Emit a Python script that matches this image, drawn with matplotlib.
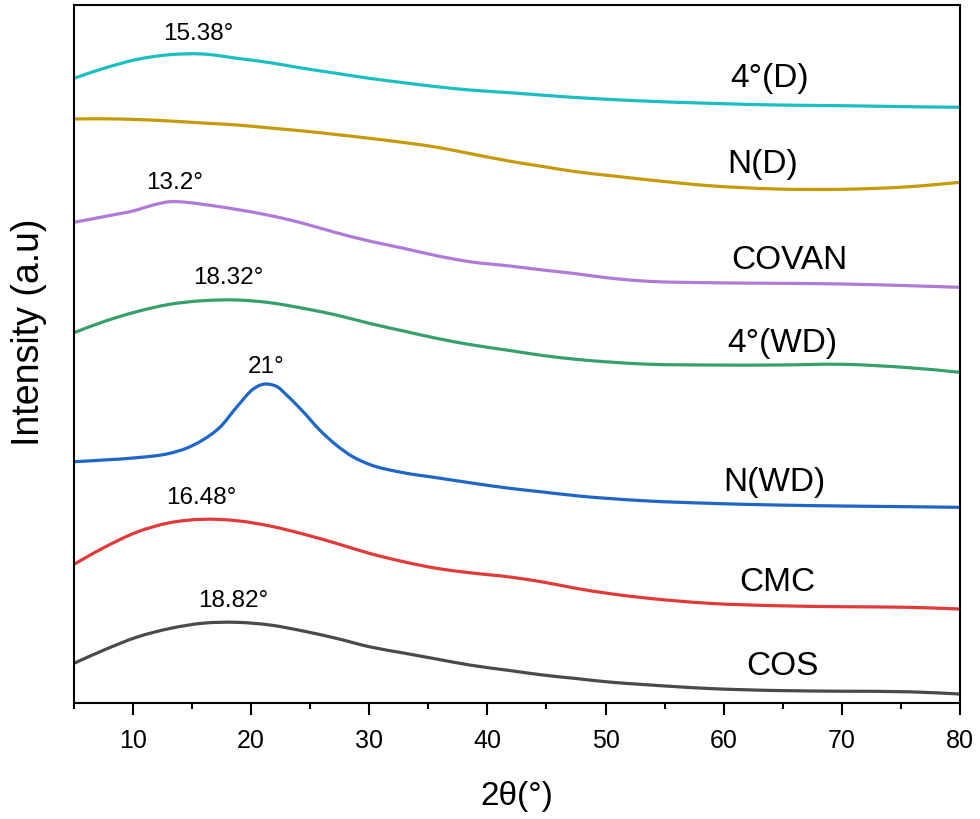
import matplotlib
matplotlib.use("Agg")
import matplotlib.pyplot as plt
from matplotlib.path import Path
from matplotlib.patches import PathPatch

plt.rcParams['font.family'] = ['Liberation Sans', 'DejaVu Sans']

# 2theta sample positions (degrees)
x_common = [5, 7.5, 10.3, 13.1, 15.9, 18.8, 21.6, 24.4, 27.2, 30, 32.9, 35.7, 38.5,
            41.9, 44.7, 47.5, 50.3, 53.2, 58.8, 64.5, 70.1, 75.7, 80]
x_covan = [5, 7.5, 10.3, 11.7, 13.1, 14.5, 15.9, 18.8, 21.6, 24.4, 27.2, 30, 32.9, 35.7,
           38.5, 41.9, 44.7, 47.5, 50.3, 53.2, 58.8, 64.5, 70.1, 75.7, 80]
x_nwd = [5, 7.5, 10.3, 13.1, 14.5, 15.9, 17.4, 18.8, 20.2, 20.7, 21.2, 21.7, 22.2, 23.0,
         24.4, 25.8, 27.2, 28.6, 30, 32.9, 35.7, 38.5, 41.9, 44.7, 47.5, 53.2, 58.8,
         64.5, 70.1, 75.7, 80]

# Intensities (a.u., stacked)
y_4d = [624.7, 634.5, 643.5, 648.3, 649, 644.7, 640.3, 634.7, 629.7, 624.7, 620.3, 616.3,
        613, 610.3, 607.8, 605.5, 603.6, 602, 599.7, 598, 597.3, 596.3, 595.7]
y_nd = [584, 584.2, 583.5, 582, 580, 578, 575, 572, 568.5, 564.7, 560.5, 555.8, 549.5,
        541.8, 536.5, 531.3, 527.5, 523.7, 517.3, 514, 513.7, 516.3, 520.7]
y_covan = [480.7, 486.3, 493, 498, 501.3, 500.7, 498.7, 493.5, 487.5, 479.7, 470.3, 462,
           454.7, 447.3, 441.3, 437, 433, 429.3, 425, 422, 420.3, 419.7, 419, 417.3, 415.7]
y_4wd = [370.3, 381.3, 391.3, 398.7, 402.3, 403, 400.3, 394.7, 388, 379.7, 372, 364.7,
         358.5, 352.5, 347.5, 343.7, 341, 339, 338, 338, 338.7, 335.3, 330.7]
y_nwd = [241.3, 243, 245.3, 249.7, 254.7, 263, 276.3, 296.3, 314.2, 317.6, 319, 318.4,
         316.3, 308, 291.3, 273, 258, 246.3, 238.7, 230.3, 225.3, 220.3, 214.7, 211,
         207.3, 202.3, 199.7, 198, 197, 196.3, 195.7]
y_cmc = [138.7, 155.2, 170.8, 180.3, 183.7, 182.3, 177, 169, 159.7, 149.7, 141.3, 134.7,
         130.3, 126, 121, 114.7, 109.5, 105.3, 99.7, 97.3, 96.3, 95.7, 94]
y_cos = [39.7, 52.8, 65.8, 74.5, 79.8, 80.7, 78, 72, 64.7, 56.3, 50, 44, 38, 32.5, 28,
         24.5, 21, 18.5, 14.5, 12.5, 11.8, 11.2, 9]

series_names = ["COS", "CMC", "N(WD)", "4°(WD)", "COVAN", "N(D)", "4°(D)"]
series_colors = ["#4a4a4a", "#e23a3a", "#1f66c8", "#36a06a", "#b07ad8", "#c49a08", "#1cbfbf"]

# label anchors (x, y)
name_pos = [(65.0, 37), (64.5, 121), (64.3, 221), (65.0, 360), (65.6, 443), (63.3, 539), (63.9, 624)]
peak_labels = ["18.82°", "16.48°", "21°", "18.32°", "13.2°", "15.38°"]
peak_pos = [(18.5, 102), (15.8, 205), (21.3, 336), (18.1, 425), (13.5, 520), (15.5, 669)]


def smooth_path(xs, ys):
    """Cubic Bezier path passing through every measured point (Hermite slopes)."""
    n = len(xs)
    d = [(ys[i + 1] - ys[i]) / (xs[i + 1] - xs[i]) for i in range(n - 1)]
    slopes = [0.0] * n
    for i in range(1, n - 1):
        h0 = xs[i] - xs[i - 1]
        h1 = xs[i + 1] - xs[i]
        slopes[i] = (d[i - 1] * h1 + d[i] * h0) / (h0 + h1)
    slopes[0] = 1.5 * d[0] - 0.5 * slopes[1]
    slopes[-1] = 1.5 * d[-1] - 0.5 * slopes[-2]
    verts = [(xs[0], ys[0])]
    codes = [Path.MOVETO]
    for i in range(n - 1):
        h = xs[i + 1] - xs[i]
        verts += [(xs[i] + h / 3, ys[i] + slopes[i] * h / 3),
                  (xs[i + 1] - h / 3, ys[i + 1] - slopes[i + 1] * h / 3),
                  (xs[i + 1], ys[i + 1])]
        codes += [Path.CURVE4] * 3
    return Path(verts, codes)


fig = plt.figure(figsize=(9.8, 8.19), dpi=100)
ax = fig.add_axes([0.0755, 0.1416, 0.904, 0.8523])

data = [(x_common, y_cos), (x_common, y_cmc), (x_nwd, y_nwd), (x_common, y_4wd),
        (x_covan, y_covan), (x_common, y_nd), (x_common, y_4d)]
for (xs, ys), c in zip(data, series_colors):
    ax.add_patch(PathPatch(smooth_path(xs, ys), fill=False, edgecolor=c, lw=2.3,
                           capstyle='butt', joinstyle='round'))

for name, (tx, ty) in zip(series_names, name_pos):
    ax.text(tx, ty, name, fontsize=24, ha='center', va='center')
for lab, (tx, ty) in zip(peak_labels, peak_pos):
    ax.text(tx, ty, lab, fontsize=17.5, ha='center', va='center')

ax.set_xlim(5, 80)
ax.set_ylim(0, 698)
ax.set_xticks([10, 20, 30, 40, 50, 60, 70, 80])
ax.set_xticks([5, 15, 25, 35, 45, 55, 65, 75], minor=True)
ax.set_yticks([])
ax.tick_params(axis='x', which='major', direction='out', length=8.6, width=1.5,
               labelsize=18, pad=10)
ax.tick_params(axis='x', which='minor', direction='out', length=4.3, width=1.5)
for s in ax.spines.values():
    s.set_linewidth(1.5)

ax.set_xlabel("2θ(°)", fontsize=24)
ax.xaxis.set_label_coords(0.5, (703 - 781) / 698)
ax.set_ylabel("Intensity (a.u)", fontsize=27)
ax.yaxis.set_label_coords((47 - 74) / 886, (703 - 332) / 698)

fig.savefig("out.png", dpi=100)
